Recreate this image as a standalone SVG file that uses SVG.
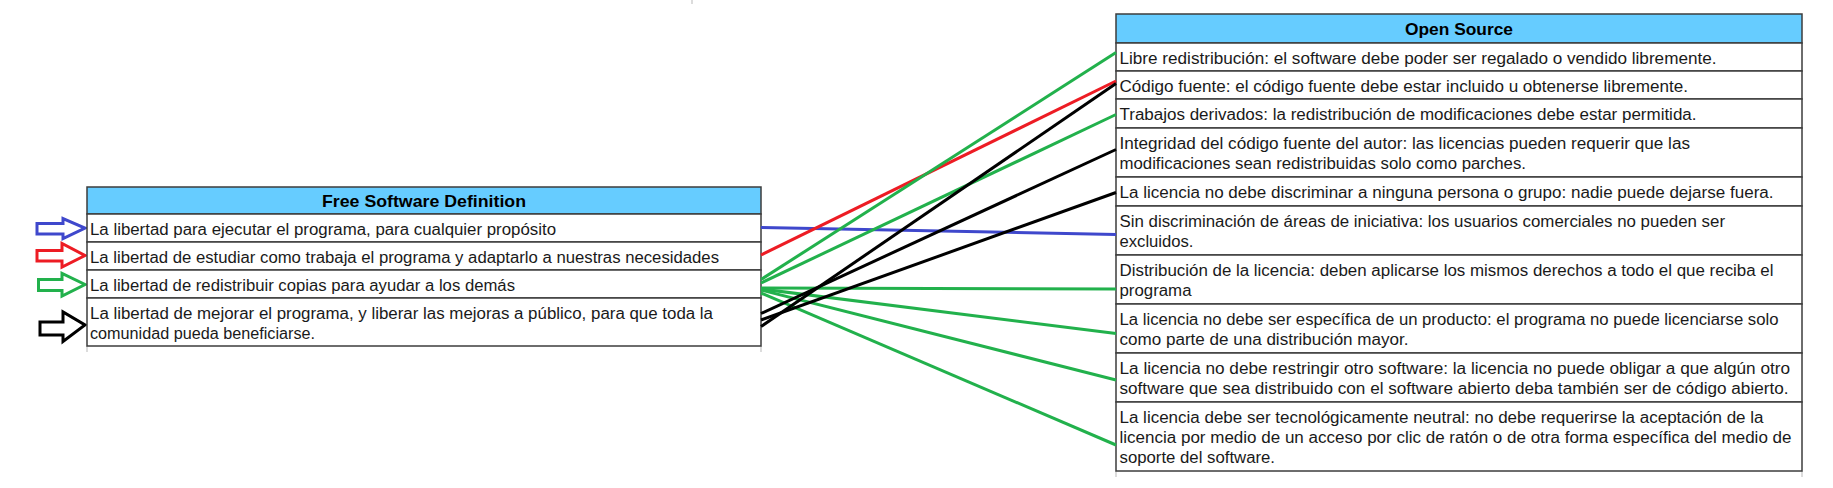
<svg xmlns="http://www.w3.org/2000/svg" width="1833" height="488" viewBox="0 0 1833 488">
<style>
.bg{fill:#ffffff}
.hdr{fill:#66CCFF;stroke:#3c3c3c;stroke-width:1.5}
.cell{fill:#ffffff;stroke:#3c3c3c;stroke-width:1.5}
.t{font-family:"Liberation Sans",Arial,sans-serif;font-size:16px;fill:#1a1a1a}
.h{font-family:"Liberation Sans",Arial,sans-serif;font-size:16.5px;font-weight:bold;fill:#000000}
.sh{stroke:#d0d0d0;stroke-width:1.5}
.arrow{fill:none;stroke-width:3;stroke-linejoin:miter}
.c{stroke-width:3;fill:none;stroke-linecap:butt}
.blue{stroke:#3F48CC}
.red{stroke:#ED1C24}
.green{stroke:#22B14C}
.black{stroke:#000000}
</style>
<rect class="bg" x="0" y="0" width="1833" height="488"/>
<line class="sh" x1="692" y1="0" x2="692" y2="4"/>

<g id="arrows">
<polygon class="arrow blue" points="37,223.5 63,223.5 63,218.5 85,228 63,238.5 63,234 37,234"/>
<polygon class="arrow red" points="37,250.5 62,250.5 62,243.5 85,255.5 62,267 62,261 37,261"/>
<polygon class="arrow green" points="38.5,279.5 62,279.5 62,273.5 85,284.5 62,296 62,290.5 38.5,290.5"/>
<polygon class="arrow black" points="40,322 63,322 63,312 85,325 63,341.5 63,335 40,335"/>
</g>

<g id="free-software-definition">
<line class="sh" x1="87" y1="346" x2="87" y2="352"/>
<line class="sh" x1="761" y1="346" x2="761" y2="352"/>
<rect class="hdr" x="87" y="187" width="674" height="27"/>
<text class="h" x="322" y="207" textLength="204" lengthAdjust="spacingAndGlyphs">Free Software Definition</text>
<rect class="cell" x="87" y="214" width="674" height="28"/>
<text class="t" x="90" y="235" textLength="466" lengthAdjust="spacingAndGlyphs">La libertad para ejecutar el programa, para cualquier propósito</text>
<rect class="cell" x="87" y="242" width="674" height="28"/>
<text class="t" x="90" y="263" textLength="629" lengthAdjust="spacingAndGlyphs">La libertad de estudiar como trabaja el programa y adaptarlo a nuestras necesidades</text>
<rect class="cell" x="87" y="270" width="674" height="28"/>
<text class="t" x="90" y="291" textLength="425" lengthAdjust="spacingAndGlyphs">La libertad de redistribuir copias para ayudar a los demás</text>
<rect class="cell" x="87" y="298" width="674" height="48"/>
<text class="t" x="90" y="318.5" textLength="623" lengthAdjust="spacingAndGlyphs">La libertad de mejorar el programa, y liberar las mejoras a público, para que toda la</text>
<text class="t" x="90" y="338.5" textLength="225" lengthAdjust="spacingAndGlyphs">comunidad pueda beneficiarse.</text>
</g>

<g id="open-source">
<line class="sh" x1="1116" y1="471" x2="1116" y2="477"/>
<line class="sh" x1="1802" y1="471" x2="1802" y2="477"/>
<rect class="hdr" x="1116" y="14" width="686" height="29"/>
<text class="h" x="1405" y="35" textLength="108" lengthAdjust="spacingAndGlyphs">Open Source</text>
<rect class="cell" x="1116" y="43" width="686" height="28"/>
<text class="t" x="1119.5" y="64" textLength="597" lengthAdjust="spacingAndGlyphs">Libre redistribución: el software debe poder ser regalado o vendido libremente.</text>
<rect class="cell" x="1116" y="71" width="686" height="28"/>
<text class="t" x="1119.5" y="92" textLength="568.5" lengthAdjust="spacingAndGlyphs">Código fuente: el código fuente debe estar incluido u obtenerse libremente.</text>
<rect class="cell" x="1116" y="99" width="686" height="29"/>
<text class="t" x="1119.5" y="120" textLength="577" lengthAdjust="spacingAndGlyphs">Trabajos derivados: la redistribución de modificaciones debe estar permitida.</text>
<rect class="cell" x="1116" y="128" width="686" height="49"/>
<text class="t" x="1119.5" y="149" textLength="570.5" lengthAdjust="spacingAndGlyphs">Integridad del código fuente del autor: las licencias pueden requerir que las</text>
<text class="t" x="1119.5" y="169" textLength="406.5" lengthAdjust="spacingAndGlyphs">modificaciones sean redistribuidas solo como parches.</text>
<rect class="cell" x="1116" y="177" width="686" height="29"/>
<text class="t" x="1119.5" y="198" textLength="654" lengthAdjust="spacingAndGlyphs">La licencia no debe discriminar a ninguna persona o grupo: nadie puede dejarse fuera.</text>
<rect class="cell" x="1116" y="206" width="686" height="49"/>
<text class="t" x="1119.5" y="227" textLength="605.5" lengthAdjust="spacingAndGlyphs">Sin discriminación de áreas de iniciativa: los usuarios comerciales no pueden ser</text>
<text class="t" x="1119.5" y="247" textLength="74" lengthAdjust="spacingAndGlyphs">excluidos.</text>
<rect class="cell" x="1116" y="255" width="686" height="49"/>
<text class="t" x="1119.5" y="276" textLength="654" lengthAdjust="spacingAndGlyphs">Distribución de la licencia: deben aplicarse los mismos derechos a todo el que reciba el</text>
<text class="t" x="1119.5" y="296" textLength="72" lengthAdjust="spacingAndGlyphs">programa</text>
<rect class="cell" x="1116" y="304" width="686" height="49"/>
<text class="t" x="1119.5" y="325" textLength="659" lengthAdjust="spacingAndGlyphs">La licencia no debe ser específica de un producto: el programa no puede licenciarse solo</text>
<text class="t" x="1119.5" y="345" textLength="289" lengthAdjust="spacingAndGlyphs">como parte de una distribución mayor.</text>
<rect class="cell" x="1116" y="353" width="686" height="49"/>
<text class="t" x="1119.5" y="374" textLength="670.5" lengthAdjust="spacingAndGlyphs">La licencia no debe restringir otro software: la licencia no puede obligar a que algún otro</text>
<text class="t" x="1119.5" y="394" textLength="669" lengthAdjust="spacingAndGlyphs">software que sea distribuido con el software abierto deba también ser de código abierto.</text>
<rect class="cell" x="1116" y="402" width="686" height="69"/>
<text class="t" x="1119.5" y="423" textLength="644" lengthAdjust="spacingAndGlyphs">La licencia debe ser tecnológicamente neutral: no debe requerirse la aceptación de la</text>
<text class="t" x="1119.5" y="443" textLength="672" lengthAdjust="spacingAndGlyphs">licencia por medio de un acceso por clic de ratón o de otra forma específica del medio de</text>
<text class="t" x="1119.5" y="463" textLength="155.5" lengthAdjust="spacingAndGlyphs">soporte del software.</text>
</g>

<g id="connectors">
<line class="c blue" x1="761" y1="227.5" x2="1116" y2="234.5"/>
<line class="c red" x1="761" y1="255" x2="1116" y2="81"/>
<line class="c green" x1="761" y1="279.5" x2="1116" y2="52.5"/>
<line class="c green" x1="761" y1="283" x2="1116" y2="114.5"/>
<line class="c green" x1="761" y1="288" x2="1116" y2="289"/>
<line class="c green" x1="761" y1="289" x2="1116" y2="333.5"/>
<line class="c green" x1="761" y1="290" x2="1116" y2="380"/>
<line class="c green" x1="761" y1="293" x2="1116" y2="445"/>
<line class="c black" x1="761" y1="313.5" x2="1116" y2="149.5"/>
<line class="c black" x1="761" y1="320" x2="1116" y2="192.5"/>
<line class="c black" x1="761" y1="326.5" x2="1116" y2="83.5"/>
</g>
</svg>
